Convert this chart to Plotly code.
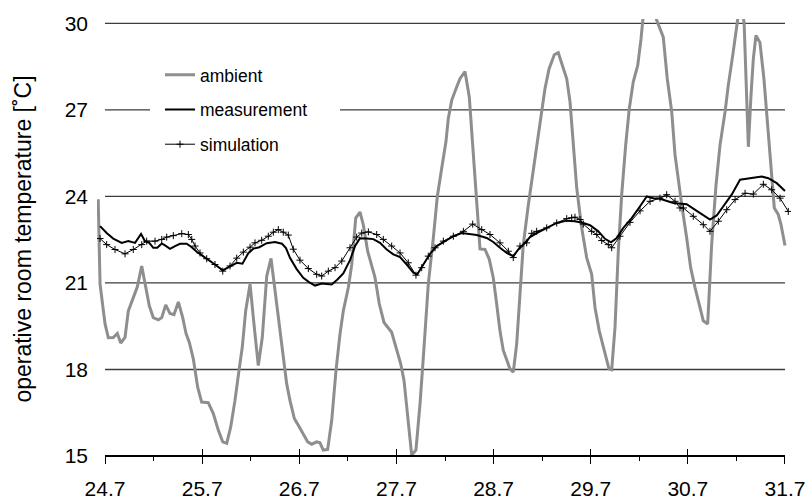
import plotly.graph_objects as go

# ---------------- data ----------------
amb_t = [24.63, 24.649, 24.70, 24.734, 24.785, 24.827, 24.862, 24.906, 24.940, 24.991,
         25.032, 25.078, 25.112, 25.156, 25.197, 25.249, 25.284, 25.325, 25.369, 25.410,
         25.455, 25.500, 25.534, 25.568, 25.609, 25.654, 25.695, 25.763, 25.815, 25.866,
         25.912, 25.953, 25.994, 26.038, 26.082, 26.113, 26.148, 26.193, 26.237, 26.278,
         26.319, 26.365, 26.409, 26.450, 26.491, 26.535, 26.570, 26.604, 26.649, 26.690,
         26.741, 26.787, 26.828, 26.879, 26.913, 26.947, 26.992, 27.034, 27.078, 27.119,
         27.153, 27.205, 27.240, 27.281, 27.325, 27.359, 27.404, 27.445, 27.479, 27.524,
         27.572, 27.651, 27.703, 27.744, 27.778, 27.822, 27.857, 27.901, 27.943, 27.984,
         28.028, 28.080, 28.121, 28.166, 28.210, 28.234, 28.269, 28.313, 28.354, 28.406,
         28.450, 28.485, 28.519, 28.543, 28.560, 28.612, 28.656, 28.697, 28.732, 28.766,
         28.800, 28.841, 28.869, 28.903, 28.938, 28.972, 29.006, 29.058, 29.109, 29.160,
         29.195, 29.229, 29.271, 29.325, 29.366, 29.418, 29.453, 29.487, 29.521, 29.556,
         29.607, 29.659, 29.710, 29.744, 29.788, 29.847, 29.888, 29.916, 29.950, 29.984,
         30.019, 30.060, 30.097, 30.138, 30.184, 30.218, 30.25, 30.30, 30.36, 30.447,
         30.488, 30.534, 30.568, 30.602, 30.637, 30.688, 30.729, 30.774, 30.818, 30.859,
         30.904, 30.945, 30.990, 31.031, 31.083, 31.116, 31.162, 31.203, 31.24, 31.279,
         31.299, 31.323, 31.350, 31.374, 31.401, 31.442, 31.483, 31.522, 31.556, 31.590,
         31.631, 31.659, 31.700]
amb_v = [23.9, 20.96, 19.59, 19.10, 19.11, 19.25, 18.92, 19.11, 20.03, 20.49,
         20.86, 21.59, 20.96, 20.21, 19.80, 19.72, 19.80, 20.24, 19.94, 19.90,
         20.34, 19.80, 19.25, 18.94, 18.37, 17.39, 16.87, 16.85, 16.47, 15.90,
         15.49, 15.44, 16.01, 16.93, 18.03, 18.77, 20.03, 20.96, 19.46, 18.14,
         19.11, 21.24, 21.85, 20.72, 19.63, 18.42, 17.51, 16.93, 16.30, 16.07,
         15.76, 15.49, 15.41, 15.49, 15.46, 15.21, 15.23, 16.24, 17.97, 19.23,
         20.03, 20.84, 21.64, 23.25, 23.46, 23.02, 22.10, 21.64, 21.20, 20.27,
         19.63, 19.29, 18.66, 18.20, 17.62, 16.24, 15.03, 15.21, 16.82, 18.77,
         20.96, 22.56, 24.00, 24.98, 25.90, 26.70, 27.33, 27.73, 28.08, 28.33,
         27.45, 25.78, 23.94, 23.02, 22.18, 22.16, 21.82, 21.18, 20.27, 19.34,
         18.66, 18.31, 18.02, 17.91, 18.89, 20.61, 22.33, 23.71, 24.86, 26.01,
         26.93, 27.73, 28.42, 28.91, 28.98, 28.42, 28.08, 27.28, 25.78, 24.29,
         22.91, 21.87, 21.30, 20.15, 19.34, 18.60, 18.02, 17.99, 19.46, 22.10,
         24.06, 25.78, 27.04, 27.97, 28.54, 29.46, 30.6, 30.8, 30.25, 29.52,
         28.08, 26.93, 25.44, 24.52, 23.71, 22.56, 21.53, 20.84, 20.27, 19.69,
         19.58, 22.33, 24.40, 25.78, 26.93, 27.85, 28.89, 30.03, 30.8, 30.03,
         28.31, 25.72, 27.51, 28.77, 29.58, 29.34, 28.08, 26.36, 24.86, 23.60,
         23.37, 23.02, 22.30]

meas_t = [24.649, 24.717, 24.785, 24.872, 24.940, 25.009, 25.071, 25.112, 25.156, 25.197,
          25.238, 25.284, 25.318, 25.369, 25.421, 25.472, 25.541, 25.593, 25.644, 25.747,
          25.832, 25.912, 25.987, 26.056, 26.115, 26.175, 26.227, 26.288, 26.365, 26.450,
          26.522, 26.563, 26.604, 26.673, 26.741, 26.800, 26.862, 26.931, 27.034, 27.093,
          27.153, 27.222, 27.274, 27.325, 27.394, 27.462, 27.531, 27.600, 27.668, 27.737,
          27.806, 27.874, 27.915, 27.977, 28.046, 28.115, 28.200, 28.286, 28.372, 28.440,
          28.527, 28.629, 28.697, 28.766, 28.835, 28.903, 28.955, 29.006, 29.075, 29.144,
          29.247, 29.350, 29.453, 29.538, 29.624, 29.693, 29.778, 29.847, 29.909, 29.968,
          30.036, 30.122, 30.208, 30.277, 30.345, 30.413, 30.550, 30.688, 30.756, 30.859,
          30.928, 30.997, 31.065, 31.151, 31.237, 31.374, 31.460, 31.528, 31.615, 31.700]
meas_v = [22.97, 22.73, 22.54, 22.39, 22.45, 22.39, 22.70, 22.45, 22.39, 22.22,
          22.22, 22.37, 22.30, 22.18, 22.28, 22.36, 22.36, 22.24, 22.08, 21.85,
          21.64, 21.44, 21.59, 21.70, 21.67, 22.03, 22.19, 22.24, 22.38, 22.42,
          22.36, 22.21, 21.87, 21.48, 21.18, 21.03, 20.91, 20.98, 20.95, 21.12,
          21.33, 21.79, 22.28, 22.55, 22.54, 22.52, 22.39, 22.16, 21.99, 21.90,
          21.64, 21.36, 21.30, 21.64, 22.01, 22.28, 22.45, 22.62, 22.73, 22.71,
          22.66, 22.56, 22.42, 22.22, 22.04, 21.93, 22.16, 22.33, 22.59, 22.73,
          22.91, 23.08, 23.16, 23.14, 23.08, 23.00, 22.79, 22.53, 22.41, 22.56,
          22.91, 23.25, 23.66, 24.00, 23.94, 23.92, 23.77, 23.73, 23.58, 23.34,
          23.20, 23.34, 23.66, 24.06, 24.58, 24.64, 24.69, 24.63, 24.46, 24.19]

sim_t = [24.649, 24.717, 24.803, 24.906, 24.991, 25.078, 25.129, 25.215, 25.284, 25.335,
         25.403, 25.490, 25.558, 25.593, 25.627, 25.678, 25.747, 25.832, 25.912, 25.987,
         26.056, 26.124, 26.193, 26.244, 26.313, 26.381, 26.433, 26.484, 26.535, 26.587,
         26.638, 26.707, 26.793, 26.879, 26.931, 26.999, 27.068, 27.137, 27.222, 27.291,
         27.343, 27.411, 27.497, 27.565, 27.651, 27.737, 27.822, 27.901, 27.960, 28.028,
         28.097, 28.183, 28.286, 28.389, 28.485, 28.578, 28.663, 28.766, 28.852, 28.903,
         28.972, 29.041, 29.093, 29.144, 29.247, 29.350, 29.453, 29.504, 29.538, 29.590,
         29.624, 29.710, 29.762, 29.813, 29.881, 29.916, 30.001, 30.104, 30.208, 30.311,
         30.413, 30.482, 30.568, 30.619, 30.654, 30.756, 30.859, 30.928, 31.014, 31.100,
         31.186, 31.289, 31.374, 31.477, 31.563, 31.649, 31.734]
sim_v = [22.54, 22.33, 22.16, 22.01, 22.16, 22.33, 22.45, 22.45, 22.51, 22.59,
         22.64, 22.71, 22.68, 22.51, 22.28, 22.04, 21.84, 21.64, 21.41, 21.59,
         21.86, 22.07, 22.24, 22.39, 22.48, 22.62, 22.76, 22.85, 22.76, 22.66,
         22.17, 21.79, 21.50, 21.30, 21.24, 21.41, 21.53, 21.76, 22.22, 22.59,
         22.73, 22.77, 22.68, 22.51, 22.28, 22.04, 21.70, 21.27, 21.53, 21.93,
         22.22, 22.45, 22.62, 22.79, 23.04, 22.85, 22.68, 22.39, 22.10, 21.88,
         22.28, 22.39, 22.72, 22.79, 22.91, 23.08, 23.23, 23.26, 23.28, 23.20,
         23.04, 22.79, 22.68, 22.47, 22.33, 22.22, 22.62, 23.10, 23.50, 23.83,
         23.94, 24.06, 23.83, 23.60, 23.60, 23.31, 23.02, 22.79, 23.14, 23.54,
         23.89, 24.11, 24.08, 24.42, 24.23, 23.94, 23.48]

x_ticks = [24.7, 25.7, 26.7, 27.7, 28.7, 29.7, 30.7, 31.7]
x_labels = ["24.7", "25.7", "26.7", "27.7", "28.7", "29.7", "30.7", "31.7"]
y_ticks = [15, 18, 21, 24, 27, 30]

# ---------------- figure ----------------
FONT = "Liberation Sans, Arial, sans-serif"
x_range = [24.6176, 31.7618]
y_range = [14.898, 30.15]

fig = go.Figure()
fig.add_trace(go.Scatter(x=amb_t, y=amb_v, mode="lines", name="ambient",
                         line=dict(color="#8e8e8e", width=3), legendgroup="a"))
fig.add_trace(go.Scatter(x=meas_t, y=meas_v, mode="lines", name="measurement",
                         line=dict(color="#000000", width=2), legendgroup="b"))
fig.add_trace(go.Scatter(x=sim_t, y=sim_v, mode="lines+markers", name="simulation",
                         line=dict(color="#000000", width=1),
                         marker=dict(symbol="cross-thin", size=5,
                                     line=dict(color="#000000", width=1)),
                         legendgroup="c"))
# empty helpers so the decorative axes are drawn
fig.add_trace(go.Scatter(x=[], y=[], xaxis="x2", yaxis="y", showlegend=False, hoverinfo="skip"))
fig.add_trace(go.Scatter(x=[], y=[], xaxis="x3", yaxis="y", showlegend=False, hoverinfo="skip"))

d0 = (x_ticks[0] - x_range[0]) / (x_range[1] - x_range[0])
d1 = (x_ticks[-1] - x_range[0]) / (x_range[1] - x_range[0])
axis_pos = (y_ticks[0] - y_range[0]) / (y_range[1] - y_range[0])

shapes = []
for yv in y_ticks[1:]:
    shapes.append(dict(type="line", xref="x", yref="y", x0=x_ticks[0], x1=x_ticks[-1],
                       y0=yv, y1=yv, line=dict(color="#3c3c3c", width=1.3), layer="below"))
# white legend background interrupting the 27 gridline
shapes.append(dict(type="rect", xref="x", yref="y", x0=25.163, x1=27.119, y0=26.0, y1=28.0,
                   fillcolor="white", line=dict(width=0), layer="below"))
# x axis base line at 15
shapes.append(dict(type="line", xref="x", yref="y", x0=x_ticks[0], x1=x_ticks[-1],
                   y0=y_ticks[0], y1=y_ticks[0], line=dict(color="#000000", width=1.5),
                   layer="above"))

fig.update_layout(
    width=809, height=501,
    margin=dict(l=97, r=18, t=17, b=42),
    paper_bgcolor="white", plot_bgcolor="rgba(0,0,0,0)",
    font=dict(family=FONT, color="#000000", size=21),
    showlegend=True,
    legend=dict(x=0.0908, xanchor="left", y=0.914, yanchor="top",
                bgcolor="rgba(0,0,0,0)", font=dict(size=17.5, family=FONT),
                tracegroupgap=9, itemwidth=30),
    xaxis=dict(domain=[0, 1], range=x_range, visible=False, showgrid=False,
               zeroline=False, automargin=False),
    xaxis2=dict(domain=[d0, d1], range=[x_ticks[0], x_ticks[-1]], anchor="free",
                position=axis_pos,
                tickvals=x_ticks, ticktext=x_labels, ticks="outside", ticklen=7,
                tickwidth=1.3, tickcolor="black", showline=True, linecolor="black",
                linewidth=1.5, showgrid=False, zeroline=False, automargin=False,
                minor=dict(dtick=0.5, tick0=24.7, ticks="outside", ticklen=4,
                           tickwidth=1.3, tickcolor="black", showgrid=False),
                tickfont=dict(size=21), ticklabelstandoff=7),
    xaxis3=dict(overlaying="x2", range=[x_ticks[0], x_ticks[-1]], anchor="free",
                position=axis_pos,
                tickvals=x_ticks, ticks="inside", ticklen=7, tickwidth=1.3,
                tickcolor="black", showticklabels=False, showgrid=False,
                zeroline=False, showline=False, automargin=False),
    yaxis=dict(range=y_range, tickvals=y_ticks, ticks="", showgrid=False,
               showline=False, zeroline=False, tickfont=dict(size=21),
               ticklabelstandoff=8, automargin=True,
               title=dict(text="operative room temperature [˚C]",
                          font=dict(size=23), standoff=26)),
    shapes=shapes,
)

fig.write_html("out.html")
